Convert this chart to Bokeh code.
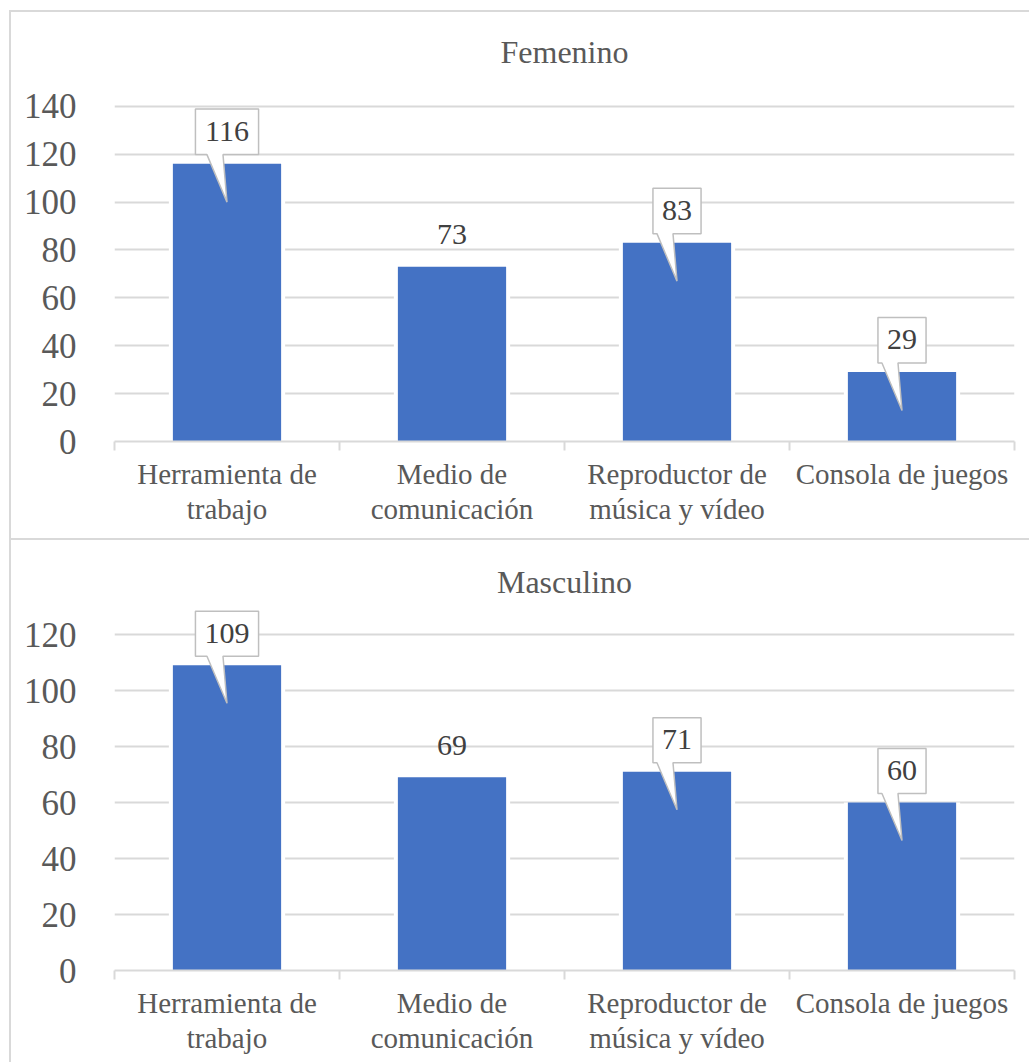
from bokeh.plotting import figure
from bokeh.layouts import column
from bokeh.models import Range1d, FixedTicker, ColumnDataSource, Title
from bokeh.core.properties import value
from bokeh.embed import file_html
from bokeh.resources import INLINE

# Usos del dispositivo por sexo
categorias = [
    "Herramienta de\ntrabajo",
    "Medio de\ncomunicación",
    "Reproductor de\nmúsica y vídeo",
    "Consola de juegos",
]
femenino = [116, 73, 83, 29]
masculino = [109, 69, 71, 60]
# etiquetas que van dentro de un globo con puntero
globo_femenino = [True, False, True, True]
globo_masculino = [True, False, True, True]

ticks_femenino = [0, 20, 40, 60, 80, 100, 120, 140]
ticks_masculino = [0, 20, 40, 60, 80, 100, 120]

FONT = "Liberation Serif"
GRIS = "#d9d9d9"
AZUL = "#4472C4"
FRAME_W = 898


def grafico(titulo, valores, globos, ticks, y_end, frame_h, top_border, bottom_border,
            title_standoff, margin, styles):
    p = figure(
        frame_width=FRAME_W, frame_height=frame_h,
        x_range=Range1d(0, 4), y_range=Range1d(0, y_end),
        output_backend="svg", toolbar_location=None,
        min_border_left=103, min_border_right=17,
        min_border_top=top_border, min_border_bottom=bottom_border,
        outline_line_color=None, background_fill_color="white",
        border_fill_color="white",
    )
    p.margin = margin
    p.styles = styles

    p.title = Title(text=titulo, align="center", text_font=FONT, text_font_size="32px",
                    text_color="#595959", text_font_style="normal",
                    standoff=title_standoff)

    # escala en píxeles por unidad
    sy = frame_h / y_end
    sx = FRAME_W / 4.0

    xs = [i + 0.5 for i in range(len(valores))]
    src = ColumnDataSource(dict(x=xs, top=valores))
    # fondo blanco algo más ancho que la barra: separa las líneas de cuadrícula
    p.vbar(x="x", top="top", width=116 / sx, source=src, fill_color="white", line_color=None)
    p.vbar(x="x", top="top", width=108 / sx, source=src, fill_color=AZUL, line_color=None)

    # globos de las etiquetas
    gx, gy = [], []
    for x, v, g in zip(xs, valores, globos):
        if not g:
            continue
        hw = (len(str(v)) * 15 + 18) / 2 / sx
        b = v + 9 / sy
        t = b + 45 / sy
        tip = v - 38 / sy
        gx.append([x - hw, x + hw, x + hw, x - 4 / sx, x, x - 20 / sx, x - hw])
        gy.append([t, t, b, b, tip, b, b])
    p.patches(gx, gy, fill_color="white", line_color="#bfbfbf", line_width=1.5)

    ty = [v + 32 / sy for v in valores]
    p.text(xs, ty, text=[str(v) for v in valores], text_font=value(FONT),
           text_font_size="30px", text_color="#404040",
           text_align="center", text_baseline="middle")

    # eje Y
    yax = p.yaxis[0]
    yax.ticker = FixedTicker(ticks=ticks)
    yax.axis_line_color = None
    yax.major_tick_line_color = None
    yax.minor_tick_line_color = None
    yax.major_label_standoff = 32
    yax.major_label_text_font = FONT
    yax.major_label_text_font_size = "35px"
    yax.major_label_text_color = "#595959"

    p.ygrid.ticker = FixedTicker(ticks=ticks)
    p.ygrid.grid_line_color = GRIS
    p.ygrid.grid_line_width = 2
    p.xgrid.grid_line_color = None

    # eje X con marcas entre categorías
    xax = p.xaxis[0]
    xax.ticker = FixedTicker(ticks=xs, minor_ticks=[0, 1, 2, 3, 4])
    xax.major_label_overrides = {x: c for x, c in zip(xs, categorias)}
    xax.axis_line_color = GRIS
    xax.axis_line_width = 2
    xax.major_tick_line_color = None
    xax.major_tick_out = 0
    xax.major_tick_in = 0
    xax.minor_tick_line_color = GRIS
    xax.minor_tick_line_width = 2
    xax.minor_tick_in = 0
    xax.minor_tick_out = 9
    xax.major_label_standoff = 7
    xax.major_label_text_font = FONT
    xax.major_label_text_font_size = "29px"
    xax.major_label_text_line_height = 1.1
    xax.major_label_text_color = "#595959"
    return p


borde = "2px solid " + GRIS
p1 = grafico("Femenino", femenino, globo_femenino, ticks_femenino, 152, 360, 65, 101, 15,
             (10, 0, 0, 9),
             {"border-top": borde, "border-left": borde, "border-bottom": borde})
p2 = grafico("Masculino", masculino, globo_masculino, ticks_masculino, 130, 364, 66, 92, 13,
             (0, 0, 0, 9),
             {"border-left": borde})

layout = column(p1, p2, spacing=0)
open("out.html", "w").write(file_html(layout, INLINE))
